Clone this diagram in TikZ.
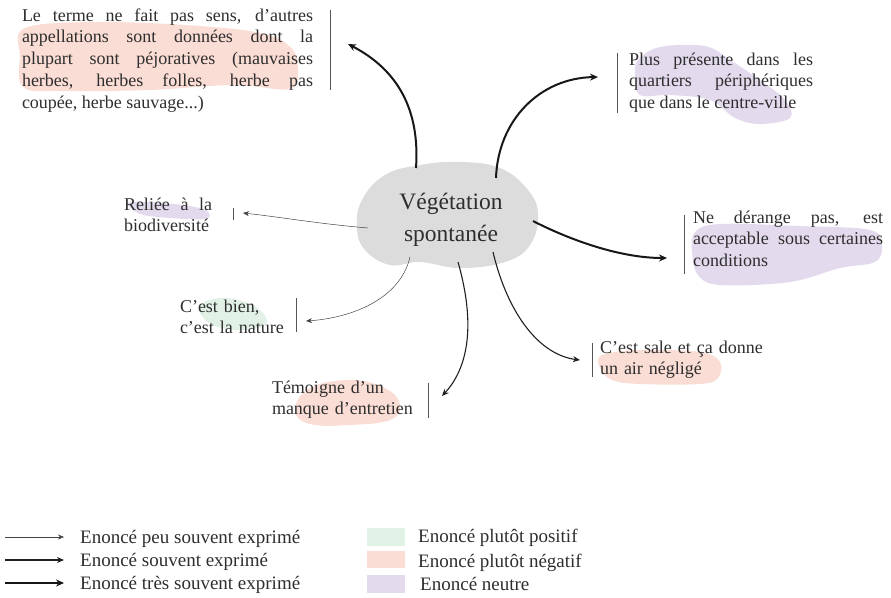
\documentclass[tikz,border=0pt]{standalone}
\usepackage{fontspec}
\setmainfont{Liberation Serif}
\usetikzlibrary{arrows.meta}
\definecolor{txt}{HTML}{2E2E2E}
\definecolor{pinkhl}{HTML}{FADDD4}
\definecolor{purphl}{HTML}{E3DBED}
\definecolor{greenhl}{HTML}{E2F1E6}
\definecolor{blobgray}{HTML}{DCDCDC}
\definecolor{bargray}{HTML}{555555}
\begin{document}
\begin{tikzpicture}[x=1pt,y=-1pt,
  lbl/.style={anchor=base west, inner sep=0pt, outer sep=0pt, text=txt,
    font=\fontsize{18}{21.8}\selectfont},
  jlbl/.style={lbl, align=justify},
  llbl/.style={lbl, align=left, text width=200pt},
  legtxt/.style={anchor=base west, inner sep=0pt, text=txt, font=\fontsize{19}{22}\selectfont},
  bar/.style={draw=bargray, line width=0.9pt},
  thinarr/.style={draw=txt!90, line width=0.5pt, -{Stealth[length=6pt,width=5pt]}},
  medarr/.style={draw=txt!70!black, line width=1.1pt, -{Stealth[length=7pt,width=6pt]}},
  thickarr/.style={draw=txt!50!black, line width=2pt, -{Stealth[length=8pt,width=7pt]}},
  swatch/.style={draw=none, minimum width=38pt, minimum height=17.5pt, inner sep=0pt, anchor=north west},
]
\useasboundingbox (0,0) rectangle (891,597);

% highlight swashes
\fill[pinkhl] plot[smooth cycle, tension=0.6] coordinates {(25,28) (100,22) (200,26) (265,34) (292,49) (298,69) (290,89) (233,85) (150,90) (60,91) (23,87) (20,56)};
\fill[purphl] plot[smooth cycle, tension=0.6] coordinates {(638,60) (660,47) (705,46) (730,60) (760,80) (785,100) (790,118) (760,124) (735,118) (710,100) (670,95) (640,95) (635,75)};
\fill[purphl] plot[smooth cycle, tension=0.6] coordinates {(695,232) (720,224) (800,226) (870,230) (882,245) (875,262) (840,268) (790,282) (720,285) (698,275) (692,252)};
\fill[pinkhl] plot[smooth cycle, tension=0.6] coordinates {(602,355) (640,350) (700,352) (720,362) (718,378) (700,384) (640,384) (612,380) (600,368)};
\fill[pinkhl] plot[smooth cycle, tension=0.7] coordinates {(295,410) (310,388) (350,380) (385,388) (400,405) (390,420) (350,425) (310,424)};
\fill[greenhl] plot[smooth cycle, tension=0.7] coordinates {(200,305) (220,298) (245,302) (262,312) (265,325) (240,330) (215,326) (202,316)};
\fill[purphl] plot[smooth cycle, tension=0.6] coordinates {(128,203) (150,202) (190,206) (208,212) (205,219) (170,218) (140,214)};

% central blob
\fill[blobgray] plot[smooth cycle, tension=0.7] coordinates {(357,228) (362,200) (385,175) (420,165) (460,162) (500,168) (528,190) (538,215) (530,245) (505,262) (460,268) (420,262) (390,265) (365,250)};
\node[anchor=base, inner sep=0pt, text=txt, text width=160pt, align=center,
  font=\fontsize{23.5}{32}\selectfont] (c) at (451,209) {Végétation\\spontanée};

% texts
\node[jlbl, text width=291pt] (t1) at (22,21) {Le terme ne fait pas sens, d’autres\linebreak appellations sont données dont la\linebreak plupart sont péjoratives (mauvaises\linebreak herbes, herbes folles, herbe pas\linebreak coupée, herbe sauvage...)};
\node[jlbl, text width=184pt] (t2) at (629,65) {Plus présente dans les\linebreak quartiers périphériques\linebreak que dans le centre-ville};
\node[jlbl, text width=190pt] (t3) at (693,223) {Ne dérange pas, est\linebreak acceptable sous certaines\linebreak conditions};
\node[llbl] (t4) at (600,353) {C’est sale et ça donne\\un air négligé};
\node[llbl] (t5) at (272,393) {Témoigne d’un\\manque d’entretien};
\node[llbl] (t6) at (180,312) {C’est bien,\\c’est la nature};
\node[jlbl, text width=88pt] (t7) at (124,210) {Reliée à la\linebreak biodiversité};

% bars
\draw[bar] (330,10) -- (330,90);
\draw[bar] (617,53) -- (617,113);
\draw[bar] (684,215) -- (684,274);
\draw[bar] (592,343) -- (592,377);
\draw[bar] (428,383) -- (428,418);
\draw[bar] (296,298) -- (296,332);
\draw[bar] (233,208) -- (233,220);

% connector endpoints
\coordinate (s1) at (416,168); \coordinate (e1) at (348,44);
\coordinate (s2) at (496,178); \coordinate (e2) at (598,77);
\coordinate (s3) at (533,221); \coordinate (e3) at (667,258);
\coordinate (s4) at (493,252); \coordinate (e4) at (580,360);
\coordinate (s5) at (458,262); \coordinate (e5) at (442,396);
\coordinate (s6) at (410,257); \coordinate (e6) at (306,321);
\coordinate (s7) at (368,228); \coordinate (e7) at (243,213);

\draw[thickarr] (s1) .. controls (420,110) and (398,70) .. (e1);
\draw[thickarr] (s2) .. controls (498,120) and (540,78) .. (e2);
\draw[thickarr] (s3) .. controls (570,240) and (620,258) .. (e3);
\draw[medarr] (s4) .. controls (508,315) and (540,355) .. (e4);
\draw[medarr] (s5) .. controls (476,325) and (468,368) .. (e5);
\draw[thinarr] (s6) .. controls (400,300) and (350,318) .. (e6);
\draw[thinarr] (s7) .. controls (320,224) and (280,217) .. (e7);

% legend
\coordinate (la1) at (5,537); \coordinate (lb1) at (64,537);
\coordinate (la2) at (5,560); \coordinate (lb2) at (64,560);
\coordinate (la3) at (5,583); \coordinate (lb3) at (64,583);
\draw[thinarr] (la1) -- (lb1);
\draw[medarr] (la2) -- (lb2);
\draw[thickarr] (la3) -- (lb3);
\node[legtxt] (l1) at (80,543) {Enoncé peu souvent exprimé};
\node[legtxt] (l2) at (80,566) {Enoncé souvent exprimé};
\node[legtxt] (l3) at (80,589) {Enoncé très souvent exprimé};
\node[swatch, fill=greenhl] (q1) at (367,528) {};
\node[swatch, fill=pinkhl] (q2) at (367,550.5) {};
\node[swatch, fill=purphl] (q3) at (367,575) {};
\node[legtxt] (l4) at (418,542) {Enoncé plutôt positif};
\node[legtxt] (l5) at (418,567) {Enoncé plutôt négatif};
\node[legtxt] (l6) at (420,590) {Enoncé neutre};
\end{tikzpicture}
\end{document}
